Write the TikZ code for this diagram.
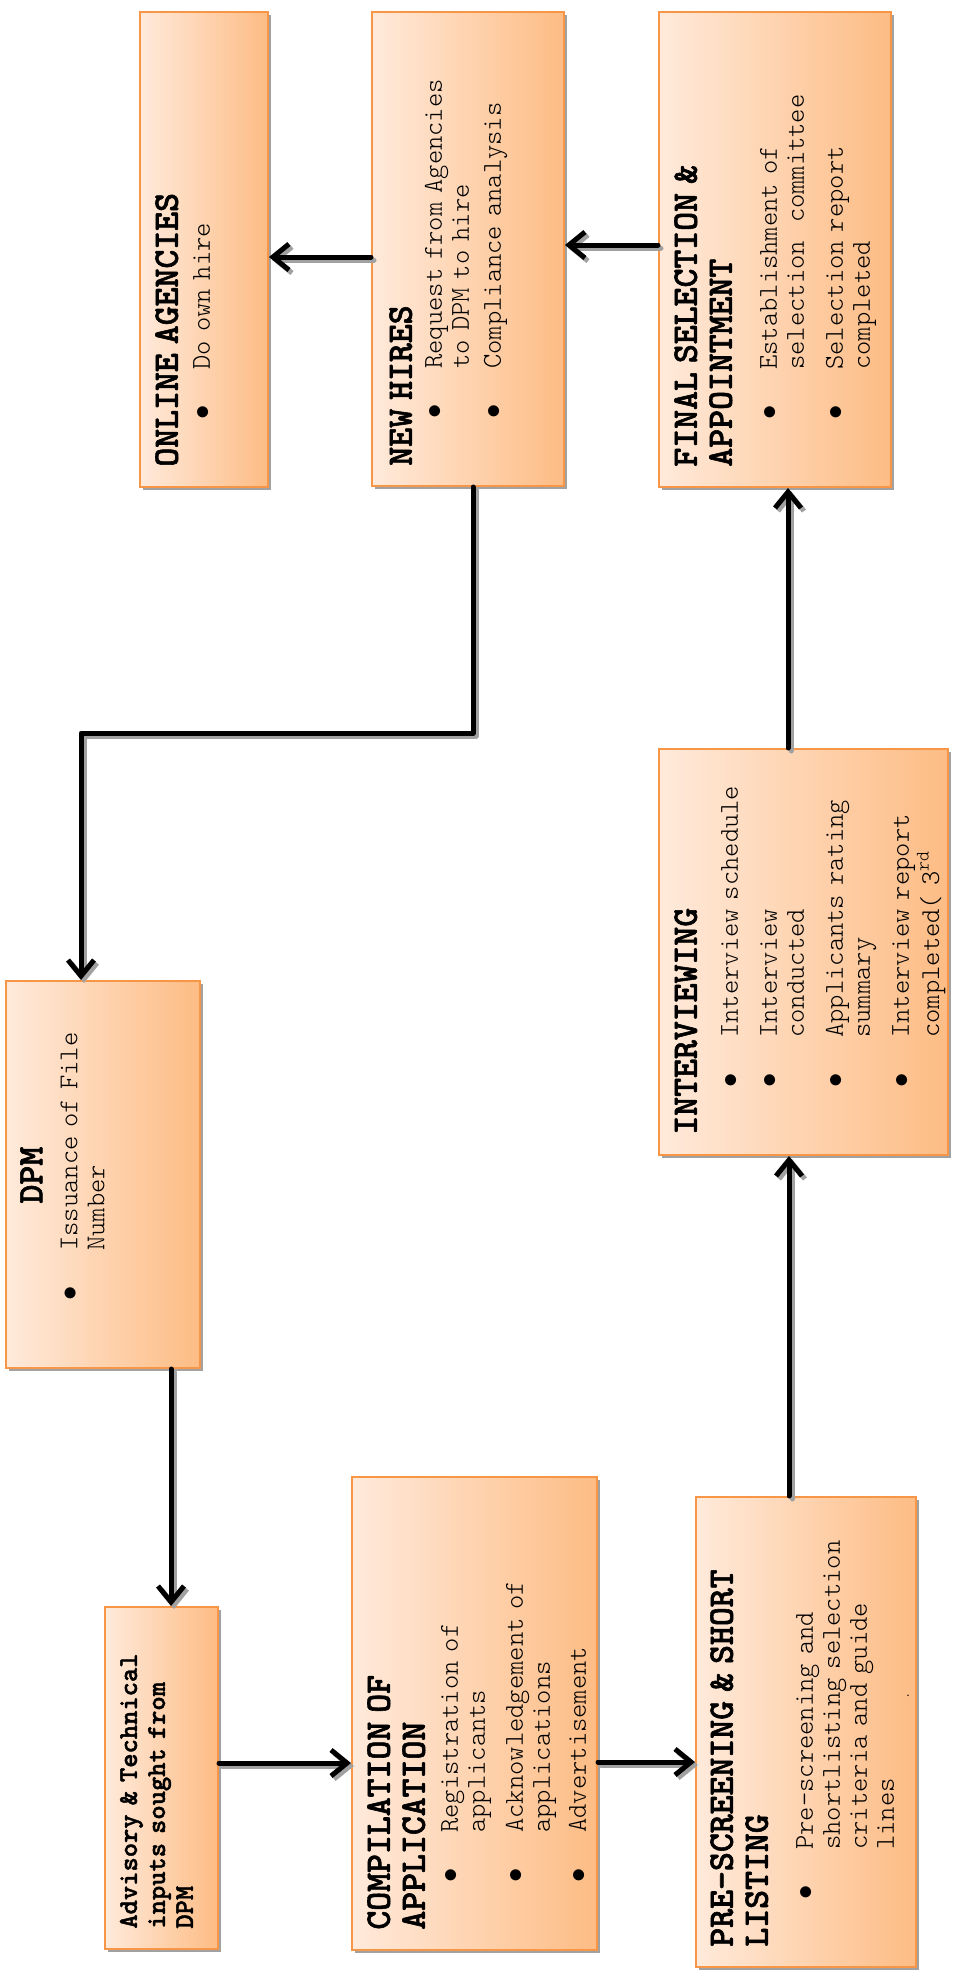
\documentclass[tikz,border=0pt]{standalone}
\usepackage{fontspec}
\newfontfamily\hdfont[FakeBold=1.6]{lmmonolt10-bold.otf}
\newfontfamily\bodyfont{lmmonolt10-regular.otf}
\usetikzlibrary{positioning,shadows,arrows.meta}

\definecolor{boxlight}{HTML}{FFEADB}
\definecolor{boxdark}{HTML}{FDBC84}
\definecolor{boxline}{HTML}{F79646}

% box heading and bullet line
\newcommand{\hd}[1]{{\hdfont\fontsize{18}{17.5}\selectfont #1\par}}
\newcommand{\blt}[2][0pt]{\par\vspace{#1}\noindent\hangindent=48.5pt\hangafter=1\relax
  \makebox[48.5pt][l]{\hspace{27pt}\makebox[0pt]{$\bullet$}}#2\par}

% all connectors, drawn twice (shadow, then line)
\newcommand{\flowlines}[1]{%
  \draw[flow,#1] (hires.west |- 0,257) -- (online.east |- 0,257);
  \draw[flow,#1] (final.west |- 0,245) -- (hires.east |- 0,245);
  \draw[flow,#1] (hires.south -| 473,0) |- (bend) -- (dpm.north -| bend);
  \draw[flow,#1] (dpm.south -| 171,0) -- (advisory.north -| 171,0);
  \draw[flow,#1] (advisory.east |- 0,1763) -- (compile.west |- 0,1763);
  \draw[flow,#1] (compile.east |- 0,1762) -- (prescreen.west |- 0,1762);
  \draw[flow,#1] (prescreen.north -| 789,0) -- (interview.south -| 789,0);
  \draw[flow,#1] (interview.north -| 788,0) -- (final.south -| 788,0);
}

\begin{document}
\begin{tikzpicture}[x=0.5pt, y=-0.5pt,
    stepbox/.style={draw=boxline, line width=1pt, left color=boxlight, right color=boxdark,
      inner sep=0pt, drop shadow={shadow xshift=1.5pt, shadow yshift=-1.5pt, fill=black!37, opacity=1}},
    boxtext/.style={rotate=90, anchor=north west, inner sep=0pt, align=left,
      font=\bodyfont\fontsize{13.6}{13.5}\selectfont},
    flow/.style={line width=2.5pt, -{Straight Barb[length=8pt,width=13pt]}, line cap=round, line join=round}]
    \useasboundingbox (0,0) rectangle (953,1976);

    % boxes
    \node[stepbox, minimum width=64pt, minimum height=237.5pt] (online) at (204,249.5) {};
    \node[stepbox, minimum width=96pt, minimum height=237pt] (hires) at (468,249) {};
    \node[stepbox, minimum width=116pt, minimum height=237.5pt] (final) at (775,249.5) {};
    \node[stepbox, minimum width=97pt, minimum height=193.5pt] (dpm) at (103,1174.5) {};
    \node[stepbox, minimum width=144.5pt, minimum height=203pt] (interview) at (803.5,952) {};
    \node[stepbox, minimum width=56.5pt, minimum height=171pt] (advisory) at (161.5,1778) {};
    \node[stepbox, minimum width=122.5pt, minimum height=236.5pt] (compile) at (474.5,1713.5) {};
    \node[stepbox, minimum width=110pt, minimum height=235pt] (prescreen) at (806,1732) {};

    % texts
    \node[boxtext, text width=216.5pt] (online-txt) at ([xshift=8pt,yshift=10.5pt]online.south west)
      {\hd{ONLINE AGENCIES}\blt[2.5pt]{Do own hire}};
    \node[boxtext, text width=216pt] (hires-txt) at ([xshift=9pt,yshift=10.5pt]hires.south west)
      {\hd{NEW HIRES}\blt[1.5pt]{Request from Agencies\newline to DPM to hire}\blt[2.5pt]{Compliance analysis}};
    \node[boxtext, text width=216.5pt] (final-txt) at ([xshift=8pt,yshift=10.5pt]final.south west)
      {\hd{FINAL SELECTION \&\newline APPOINTMENT}\blt[9pt]{Establishment of\newline selection~ committee}\blt[6pt]{Selection report\newline completed}};
    \node[boxtext, text width=172.5pt] (dpm-txt) at ([xshift=7.5pt,yshift=10.5pt]dpm.south west)
      {\hd{\centering DPM}\blt[4pt]{Issuance of File\newline Number}};
    \node[boxtext, text width=182pt] (interview-txt) at ([xshift=8pt,yshift=10.5pt]interview.south west)
      {\hd{INTERVIEWING}\blt[7pt]{Interview schedule}\blt[6pt]{Interview\newline conducted}\blt[6pt]{Applicants rating\newline summary}\blt[6pt]{Interview report\newline completed( 3\textsuperscript{rd}}};
    \node[boxtext, text width=150pt, font=\hdfont\fontsize{13.6}{14}\selectfont] (advisory-txt) at ([xshift=7.8pt,yshift=10.5pt]advisory.south west)
      {Advisory \& Technical\newline inputs sought from\newline DPM};
    \node[boxtext, text width=215.5pt] (compile-txt) at ([xshift=8pt,yshift=10.5pt]compile.south west)
      {\hd{COMPILATION OF\newline APPLICATION}\blt[3pt]{Registration of\newline applicants}\blt[5.5pt]{Acknowledgement of\newline applications}\blt[4.5pt]{Advertisement}};
    \node[boxtext, text width=214pt] (prescreen-txt) at ([xshift=7.5pt,yshift=10.5pt]prescreen.south west)
      {\hd{PRE-SCREENING \& SHORT\newline LISTING}\blt[9pt]{Pre-screening and\newline shortlisting selection\newline criteria and guide\newline lines\hspace*{39.5pt}\raisebox{-7.5pt}{\scriptsize .}}};

    % connectors
    \coordinate (bend) at (81,733);
    \flowlines{draw=black!37, transform canvas={xshift=1.5pt, yshift=-1.5pt}}
    \flowlines{draw=black}
\end{tikzpicture}
\end{document}
